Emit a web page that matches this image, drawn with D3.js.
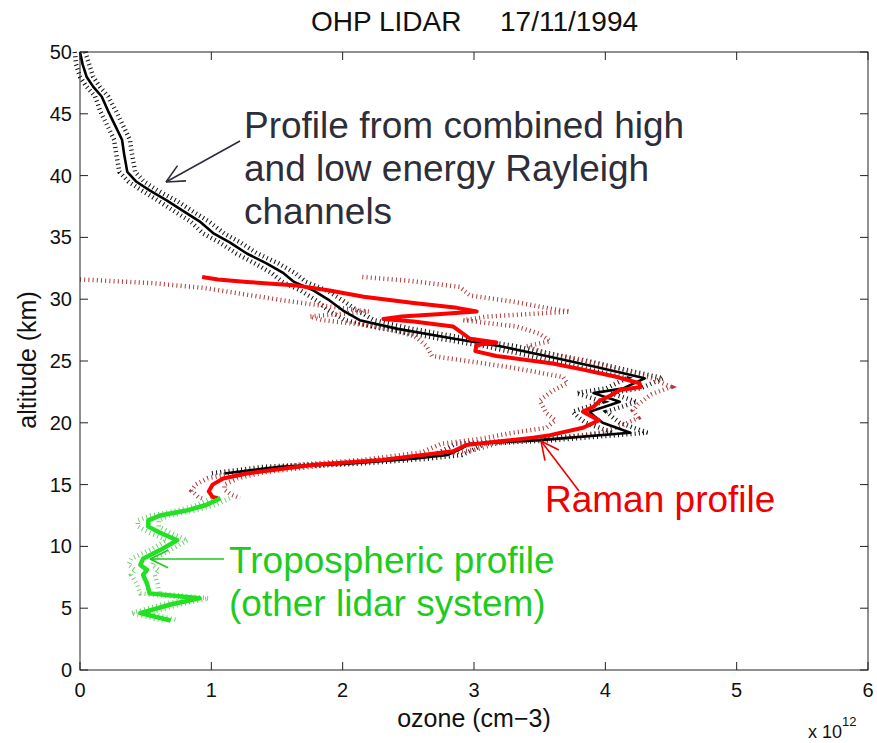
<!DOCTYPE html>
<html><head><meta charset="utf-8">
<script src="https://cdn.jsdelivr.net/npm/d3@7"></script>
<style>body{margin:0;background:#fff}svg{display:block}text{font-family:"Liberation Sans",Arial,sans-serif}</style>
</head><body><svg id="c" width="877" height="743"></svg>
<script>
// ---- data (ozone in units of 1e12 cm-3, altitude in km) ----
const xTicks = [0, 1, 2, 3, 4, 5, 6];
const yTicks = [0, 5, 10, 15, 20, 25, 30, 35, 40, 45, 50];

// Rayleigh profile (combined high and low energy channels) - black
const rayAlt = [50.0,49.0,48.0,47.2,46.4,45.2,44.0,42.9,41.8,40.3,39.5,38.8,38.0,37.1,36.3,35.3,34.6,33.7,32.9,32.1,31.4,30.7,29.9,29.1,28.3,27.6,26.8,26.2,25.4,24.5,23.6,22.8,22.4,21.7,20.9,20.5,20.0,19.2,18.6,18.3,17.8,17.4,17.1,16.7,16.45,15.9];
const rayOz  = [0.0,0.02,0.05,0.10,0.165,0.215,0.27,0.32,0.335,0.36,0.43,0.53,0.66,0.79,0.91,1.02,1.14,1.27,1.42,1.55,1.63,1.78,1.90,2.0,2.13,2.42,2.85,3.2,3.55,3.94,4.30,4.14,3.91,4.11,3.88,3.92,3.98,4.19,3.50,2.97,2.88,2.80,2.54,2.03,1.52,1.10];
const rayErr = [0.04,0.05,0.05,0.05,0.05,0.06,0.06,0.06,0.06,0.06,0.06,0.06,0.07,0.07,0.07,0.08,0.08,0.08,0.09,0.09,0.09,0.1,0.1,0.11,0.11,0.11,0.11,0.12,0.12,0.13,0.14,0.13,0.13,0.13,0.13,0.13,0.13,0.13,0.11,0.11,0.11,0.11,0.11,0.11,0.11,0.11];

// Raman profile - red
const ramAlt = [31.8,31.6,31.4,31.1,30.7,30.2,29.7,29.3,29.0,28.8,28.6,28.4,28.2,27.8,26.8,26.5,26.3,25.8,25.4,24.8,24.3,23.7,23.2,22.9,22.65,22.2,21.8,21.3,20.9,20.5,20.2,19.6,19.0,18.8,18.5,18.2,17.7,17.0,16.6,15.9,15.5,15.0,14.45,14.0,13.9];
const ramOz  = [0.93,1.05,1.27,1.65,1.90,2.16,2.54,2.87,3.02,2.75,2.45,2.31,2.54,2.84,2.97,3.17,3.02,3.01,3.17,3.60,3.83,4.09,4.26,4.27,4.11,4.04,3.96,3.91,3.83,3.90,3.95,3.83,3.58,3.45,3.20,2.94,2.84,2.30,1.78,1.27,1.09,1.01,0.98,1.01,1.05];
// Raman error envelope (left and right bounds)
const ramLoAlt = [31.6,31.3,30.9,30.4,29.9,29.4,29.0,28.6,28.3,28.0,27.6,27.0,26.2,25.4,25.0,24.5,23.7,23.2,22.6,21.8,20.8,20.2,19.6,19.2,18.7,18.3,17.6,17.0,16.6,15.9,15.5,15.0,14.5,14.0,13.8];
const ramLoOz  = [0.0,0.55,0.95,1.25,1.55,1.9,2.2,1.75,1.85,2.1,2.34,2.55,2.64,2.68,2.95,3.27,3.68,3.71,3.6,3.5,3.55,3.62,3.55,3.3,3.05,2.75,2.6,2.15,1.65,1.15,0.97,0.88,0.85,0.9,0.95];
const ramHiAlt = [31.8,31.5,31.0,30.3,29.8,29.2,29.0,28.6,28.3,27.8,27.2,26.6,26.2,25.6,25.1,24.4,23.6,22.9,22.3,21.5,21.0,20.4,19.7,19.2,18.8,18.4,17.8,17.1,16.6,16.0,15.5,15.0,14.6,14.2,13.9];
const ramHiOz  = [2.15,2.5,2.89,2.97,3.3,3.6,3.73,3.1,2.92,3.32,3.5,3.58,3.4,3.55,3.83,4.1,4.35,4.5,4.35,4.25,4.21,4.25,4.11,3.95,3.7,3.2,3.0,2.45,1.9,1.4,1.2,1.1,1.1,1.15,1.22];

// Tropospheric profile (other lidar system) - green
const troAlt = [13.9,13.35,12.9,12.5,12.1,11.6,11.1,10.5,9.7,9.0,8.5,8.1,7.7,7.0,6.2,5.8,5.3,4.6,4.0];
const troOz  = [1.07,0.96,0.81,0.61,0.52,0.52,0.61,0.74,0.61,0.48,0.46,0.51,0.48,0.51,0.53,0.91,0.69,0.46,0.69];
const troErr = [0.07,0.07,0.07,0.07,0.08,0.08,0.08,0.08,0.08,0.09,0.09,0.09,0.09,0.08,0.07,0.07,0.07,0.07,0.06];

// ---- drawing ----
const svg = d3.select("#c");
const L = 80, R = 868, T = 52, B = 670;
const x = d3.scaleLinear().domain([0, 6]).range([L, R]);
const y = d3.scaleLinear().domain([0, 50]).range([B, T]);

const line = d3.line().x(d => x(d[1])).y(d => y(d[0]));
const zip = (a, b) => a.map((v, i) => [v, b[i]]);

function dotted(pts, color, w) {
  svg.append("path").attr("d", line(pts)).attr("fill", "none")
    .attr("stroke", color).attr("stroke-width", w).attr("stroke-dasharray", "1,3.2");
}
function solid(pts, color, w) {
  svg.append("path").attr("d", line(pts)).attr("fill", "none")
    .attr("stroke", color).attr("stroke-width", w).attr("stroke-linejoin", "round");
}

// error envelopes
dotted(zip(rayAlt, rayOz.map((v, i) => v - rayErr[i])), "#111", 4.5);
dotted(zip(rayAlt, rayOz.map((v, i) => v + rayErr[i])), "#111", 4.5);
dotted(zip(ramLoAlt, ramLoOz), "#b03a3a", 4.5);
dotted(zip(ramHiAlt, ramHiOz), "#b03a3a", 4.5);
dotted(zip(troAlt, troOz.map((v, i) => v - troErr[i])), "#6fcf6f", 4.5);
dotted(zip(troAlt, troOz.map((v, i) => v + troErr[i])), "#6fcf6f", 4.5);

// profiles
solid(zip(rayAlt, rayOz), "#000", 2.6);
solid(zip(ramAlt, ramOz), "#ff0000", 4);
solid(zip(troAlt, troOz), "#22e022", 4.5);

// frame and ticks (ticks inside, all four sides)
const ax = svg.append("g").attr("stroke", "#222").attr("stroke-width", 1);
ax.append("rect").attr("x", L).attr("y", T).attr("width", R - L).attr("height", B - T).attr("fill", "none");
const tl = 8;
xTicks.forEach(t => {
  ax.append("line").attr("x1", x(t)).attr("x2", x(t)).attr("y1", B).attr("y2", B - tl);
  ax.append("line").attr("x1", x(t)).attr("x2", x(t)).attr("y1", T).attr("y2", T + tl);
});
yTicks.forEach(t => {
  ax.append("line").attr("y1", y(t)).attr("y2", y(t)).attr("x1", L).attr("x2", L + tl);
  ax.append("line").attr("y1", y(t)).attr("y2", y(t)).attr("x1", R).attr("x2", R - tl);
});

// tick labels
svg.append("g").selectAll("text").data(xTicks).join("text")
  .attr("x", d => x(d)).attr("y", 697).attr("text-anchor", "middle")
  .attr("font-size", 20).attr("fill", "#111").text(d => d);
svg.append("g").selectAll("text").data(yTicks).join("text")
  .attr("x", 72).attr("y", d => y(d) + 7).attr("text-anchor", "end")
  .attr("font-size", 20).attr("fill", "#111").text(d => d);

// axis titles
svg.append("text").attr("x", 474).attr("y", 727).attr("text-anchor", "middle")
  .attr("font-size", 25).attr("fill", "#111").text("ozone (cm\u22123)");
svg.append("text").attr("transform", "translate(36,360) rotate(-90)").attr("text-anchor", "middle")
  .attr("font-size", 25).attr("fill", "#111").text("altitude (km)");
const ex = svg.append("text").attr("x", 808).attr("y", 738).attr("font-size", 18).attr("fill", "#111");
ex.append("tspan").text("x 10");
ex.append("tspan").attr("font-size", 13).attr("dy", -12).text("12");

// title
svg.append("text").attr("x", 311).attr("y", 31).attr("font-size", 28).attr("fill", "#111").text("OHP LIDAR");
svg.append("text").attr("x", 500).attr("y", 31).attr("font-size", 28).attr("fill", "#111").text("17/11/1994");

// annotations
function arrow(x1, y1, x2, y2, color, w) {
  const g = svg.append("g").attr("stroke", color).attr("stroke-width", w).attr("fill", "none");
  g.append("line").attr("x1", x1).attr("y1", y1).attr("x2", x2).attr("y2", y2);
  const a = Math.atan2(y1 - y2, x1 - x2), h = 20, s = 0.45;
  [a - s, a + s].forEach(b => g.append("line").attr("x1", x2).attr("y1", y2)
    .attr("x2", x2 + h * Math.cos(b)).attr("y2", y2 + h * Math.sin(b)));
}
const gray = "#2e2e3a";
const rl = ["Profile from combined high", "and low energy Rayleigh", "channels"];
rl.forEach((t, i) => svg.append("text").attr("x", 244).attr("y", 138 + i * 43)
  .attr("font-size", 37).attr("fill", gray).text(t));
arrow(240, 141, 166, 182, gray, 1.6);

svg.append("text").attr("x", 545).attr("y", 512).attr("font-size", 37).attr("fill", "#ee0000").text("Raman profile");
arrow(579, 491, 541, 441, "#ee0000", 1.6);

svg.append("text").attr("x", 229).attr("y", 573).attr("font-size", 37).attr("fill", "#1ecb1e").text("Tropospheric profile");
svg.append("text").attr("x", 229).attr("y", 616).attr("font-size", 37).attr("fill", "#1ecb1e").text("(other lidar system)");
arrow(224, 559, 150, 559, "#1ecb1e", 1.6);
</script></body></html>
